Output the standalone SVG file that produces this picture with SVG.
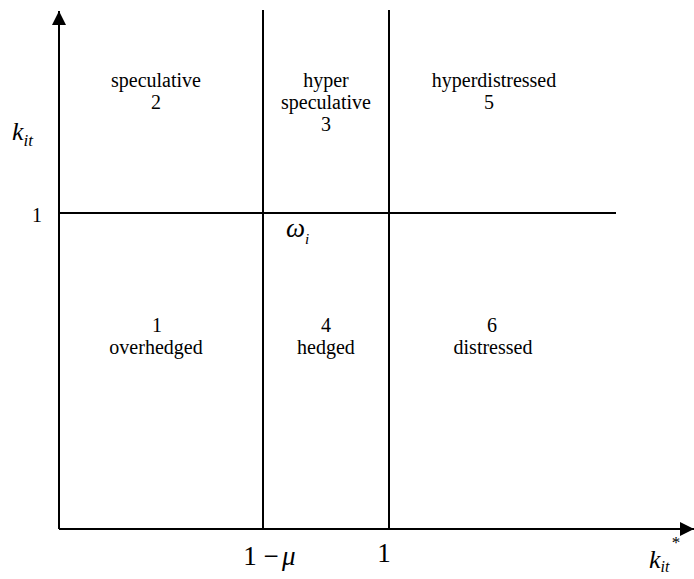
<svg xmlns="http://www.w3.org/2000/svg" width="694" height="579" viewBox="0 0 694 579" font-family="'Liberation Serif', 'Times New Roman', 'DejaVu Serif', serif">
<style>
.ln{stroke:#000;stroke-width:2;fill:none}
.t{font-size:20px;text-anchor:middle;fill:#000}
.m{font-style:italic;fill:#000}
.n{fill:#000}
</style>
<defs>
<marker id="ah" viewBox="0 0 10 10" refX="10" refY="5" markerWidth="7" markerHeight="7" orient="auto" markerUnits="strokeWidth">
<path d="M0,0 L10,5 L0,10 z" fill="#000"/>
</marker>
</defs>
<rect width="694" height="579" fill="#fff"/>
<g id="connectors">
<line class="ln" x1="59" y1="529" x2="59" y2="11" marker-end="url(#ah)"/>
<line class="ln" x1="59" y1="529" x2="694" y2="529" marker-end="url(#ah)"/>
<line class="ln" x1="59" y1="213" x2="616" y2="213"/>
<line class="ln" x1="263" y1="10" x2="263" y2="529"/>
<line class="ln" x1="389" y1="10" x2="389" y2="529"/>
</g>
<g id="region2"><text class="t" x="156" y="87">speculative</text><text class="t" x="156" y="109">2</text></g>
<g id="region3"><text class="t" x="326" y="87">hyper</text><text class="t" x="326" y="109">speculative</text><text class="t" x="326" y="131">3</text></g>
<g id="region5"><text class="t" x="494" y="87">hyperdistressed</text><text class="t" x="489" y="109">5</text></g>
<g id="region1"><text class="t" x="157" y="332">1</text><text class="t" x="156" y="354">overhedged</text></g>
<g id="region4"><text class="t" x="326" y="332">4</text><text class="t" x="326" y="354">hedged</text></g>
<g id="region6"><text class="t" x="492" y="332">6</text><text class="t" x="493" y="354">distressed</text></g>
<g id="labels">
<text class="m" x="12" y="140" font-size="26">k<tspan font-size="17" dy="6">it</tspan></text>
<text class="n" x="37" y="222" font-size="20" text-anchor="middle">1</text>
<text class="m" x="286" y="237" font-size="27">ω<tspan font-size="15" dy="7">i</tspan></text>
<text class="n" x="250" y="565" font-size="27" text-anchor="middle">1</text>
<text class="n" x="271" y="565" font-size="27" text-anchor="middle">−</text>
<text class="m" x="282" y="565" font-size="27">μ</text>
<text class="n" x="384" y="562" font-size="27" text-anchor="middle">1</text>
<text class="m" x="649" y="568" font-size="26">k<tspan font-size="16" dy="4">it</tspan></text>
<text class="n" x="676" y="548" font-size="17" text-anchor="middle">*</text>
</g>
</svg>
